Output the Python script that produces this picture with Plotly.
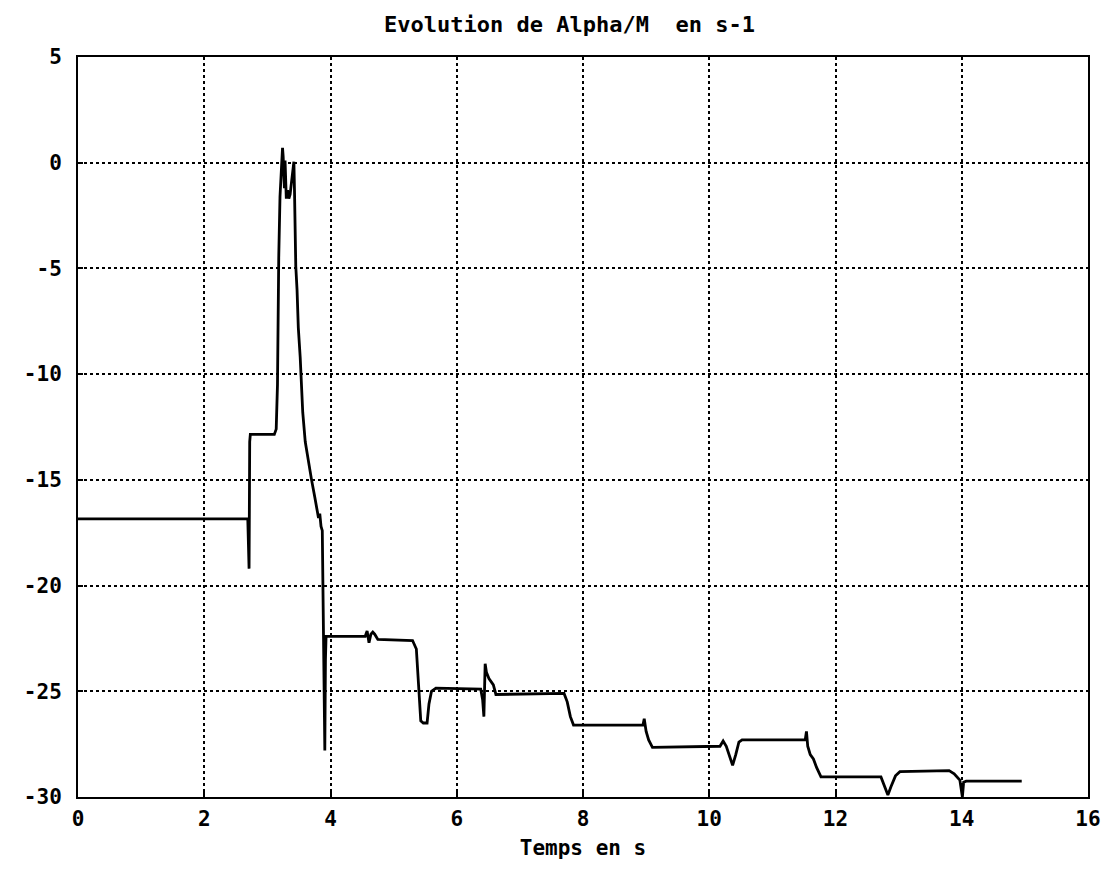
import plotly.graph_objects as go

# Time (s) and Alpha/M (s-1)
temps = [0.0, 2.68, 2.69, 2.70, 2.71, 2.72, 2.73, 3.11, 3.14, 3.16, 3.17, 3.18, 3.20,
         3.22, 3.24, 3.25, 3.27, 3.28, 3.30, 3.32, 3.34, 3.36, 3.38, 3.40, 3.42,
         3.43, 3.44, 3.45, 3.47, 3.49, 3.52, 3.54, 3.56, 3.60, 3.65, 3.70, 3.75,
         3.79, 3.81, 3.83, 3.85, 3.87, 3.88, 3.89, 3.90, 3.91, 3.92, 3.93,
         4.55, 4.58, 4.61, 4.64, 4.67, 4.70, 4.75, 5.30, 5.36, 5.40, 5.43, 5.47,
         5.53, 5.56, 5.60, 5.67, 6.38, 6.41, 6.43, 6.45, 6.47, 6.51, 6.55, 6.58,
         6.62, 7.70, 7.75, 7.80, 7.85, 8.95, 8.97, 9.00, 9.04, 9.10, 10.17, 10.22,
         10.27, 10.32, 10.37, 10.42, 10.47, 10.52, 11.52, 11.54, 11.56, 11.60,
         11.65, 11.70, 11.77, 12.72, 12.77, 12.83, 12.88, 12.95, 13.02, 13.80,
         13.88, 13.97, 14.01, 14.03, 14.07, 14.95]
alpha_m = [-16.85, -16.85, -16.9, -19.2, -19.2, -13.2, -12.85, -12.85, -12.6, -10.5,
           -7.0, -4.5, -1.6, -0.4, 0.7, 0.3, -1.2, 0.1, -1.7, -1.3, -1.7, -1.5, -0.9,
           -0.3, 0.05, -1.4, -2.9, -4.9, -6.0, -7.8, -9.2, -10.6, -11.8, -13.2,
           -14.2, -15.0, -15.8, -16.4, -16.8, -16.6, -17.2, -17.4, -20.5, -22.2,
           -23.0, -27.8, -23.5, -22.4, -22.4, -22.15, -22.7, -22.3, -22.2, -22.3,
           -22.55, -22.6, -23.0, -25.0, -26.4, -26.5, -26.5, -25.6, -25.0, -24.85,
           -24.9, -25.4, -26.2, -23.7, -24.1, -24.4, -24.6, -24.7, -25.15, -25.1,
           -25.5, -26.2, -26.6, -26.6, -26.3, -26.9, -27.3, -27.65, -27.6, -27.35,
           -27.6, -28.1, -28.5, -28.0, -27.4, -27.3, -27.3, -26.9, -27.6, -28.0,
           -28.2, -28.6, -29.05, -29.05, -29.4, -29.9, -29.5, -29.0, -28.8, -28.75,
           -28.9, -29.2, -30.0, -29.3, -29.25, -29.25]

x_ticks = [0, 2, 4, 6, 8, 10, 12, 14, 16]
y_ticks = [-30, -25, -20, -15, -10, -5, 0, 5]

font_mono = "DejaVu Sans Mono"

fig = go.Figure()
fig.add_trace(go.Scatter(x=temps, y=alpha_m, mode="lines",
                         line=dict(color="black", width=2.8), showlegend=False))

axis_common = dict(
    showline=True, linecolor="black", linewidth=2, mirror=True,
    showgrid=True, gridcolor="black", gridwidth=1.5, griddash="dot",
    zeroline=False, ticks="inside", ticklen=5, tickcolor="black", tickwidth=2,
    automargin=False,
    tickfont=dict(family=font_mono, size=21, color="black", weight="bold"),
)

fig.update_layout(
    width=1101, height=882,
    paper_bgcolor="white", plot_bgcolor="white",
    margin=dict(l=70, r=21, t=49, b=93),
    title=dict(text="Evolution de Alpha/M  en s-1", x=0.51, xanchor="center",
               y=0.99, yanchor="top",
               font=dict(family=font_mono, size=22, color="black", weight="bold")),
    xaxis=dict(range=[0, 16], tickvals=x_ticks, ticktext=[str(v) for v in x_ticks],
               title=dict(text="Temps en s", standoff=10,
                          font=dict(family=font_mono, size=21, color="black", weight="bold")),
               ticklabelstandoff=2,
               **axis_common),
    yaxis=dict(range=[-30, 5], tickvals=y_ticks, ticktext=[str(v) for v in y_ticks],
               ticklabelstandoff=10,
               **axis_common),
)

fig.write_html("out.html")
